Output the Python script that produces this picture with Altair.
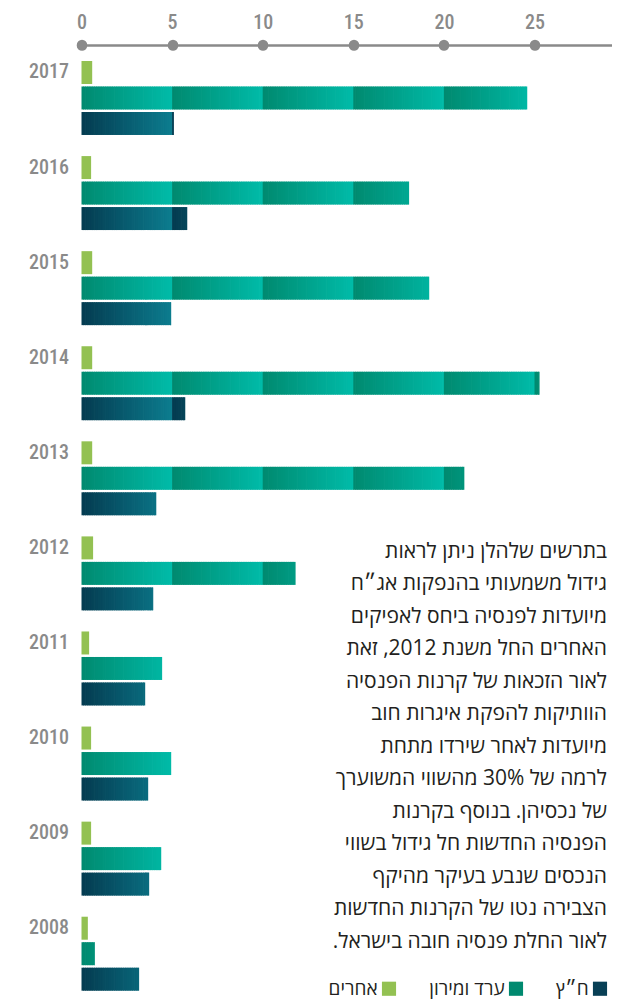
import math
import altair as alt
import pandas as pd

# ---- data ----
YEARS = ["2017", "2016", "2015", "2014", "2013", "2012", "2011", "2010", "2009", "2008"]
SERIES = ["אחרים", "ערד ומירון", "ח״ץ"]
OTHERS = [0.59, 0.53, 0.59, 0.59, 0.59, 0.64, 0.42, 0.53, 0.53, 0.35]
ARAD = [24.6, 18.08, 19.19, 25.28, 21.12, 11.81, 4.45, 4.95, 4.40, 0.73]
HATZ = [5.10, 5.83, 4.95, 5.72, 4.12, 3.96, 3.51, 3.68, 3.73, 3.18]
X_TICKS = [0, 5, 10, 15, 20, 25, 30]
TEXT_LINES = [
    "בתרשים שלהלן ניתן לראות",
    "גידול משמעותי בהנפקות אג״ח",
    "מיועדות לפנסיה ביחס לאפיקים",
    "האחרים החל משנת 2012, זאת",
    "לאור הזכאות של קרנות הפנסיה",
    "הוותיקות להפקת איגרות חוב",
    "מיועדות לאחר שירדו מתחת",
    "לרמה של 30% מהשווי המשוערך",
    "של נכסיהן. בנוסף בקרנות",
    "הפנסיה החדשות חל גידול בשווי",
    "הנכסים שנבע בעיקר מהיקף",
    "הצבירה נטו של הקרנות החדשות",
    "לאור החלת פנסיה חובה בישראל.",
]

# ---- style ----
GREEN = "#93c152"
TEAL = ("#00896f", "#00bba9")
DARK = ("#043b50", "#0c7d8f")
LEGEND_COLORS = [GREEN, "#00896f", "#083f55"]
GRAY = "#8a8a8a"
NUM_FONT = "'Liberation Sans Narrow', 'Roboto Condensed', 'DejaVu Sans Condensed', Roboto, sans-serif"
HEB_FONT = "'Open Sans', 'Liberation Sans', sans-serif"
SEG = 5.0        # width of one shaded segment (axis units)
SLICES = 50      # slices per segment, to draw the shading
PX_PER_UNIT = 18.12
LEFT = 73.5
TOTAL_W = 604

W = TOTAL_W - LEFT
XMAX = W / PX_PER_UNIT
H = 929.7

x_scale = alt.Scale(domain=[0, XMAX], nice=False, zero=True)
y_scale = alt.Scale(paddingInner=0.222, paddingOuter=0)
yoff_scale = alt.Scale(domain=SERIES, paddingInner=0.098, paddingOuter=0)

X_AXIS = alt.Axis(orient="top", values=X_TICKS, title=None, grid=False,
                  offset=16, domainColor=GRAY, domainWidth=2.5,
                  ticks=True, tickColor=GRAY, tickWidth=10.5, tickCap="round",
                  tickSize=0.5, labelPadding=12, labelFont=NUM_FONT,
                  labelFontSize=20, labelFontWeight=500, labelColor=GRAY,
                  labelFlush=False)

base_df = pd.DataFrame({"year": YEARS, "series": SERIES[0], "value": OTHERS})


def slices(values, series):
    rows = []
    step = SEG / SLICES
    for year, v in zip(YEARS, values):
        n = int(math.ceil(v / step - 1e-9))
        for i in range(n):
            a = i * step
            b = min((i + 1) * step + 0.04, v)
            rows.append({"year": year, "series": series, "a": a, "b": b,
                         "t": ((i % SLICES) + 0.5) / SLICES})
    return pd.DataFrame(rows)


arad_df = slices(ARAD, SERIES[1])
hatz_df = slices(HATZ, SERIES[2])

Y = alt.Y("year:N", sort=YEARS, scale=y_scale,
          axis=alt.Axis(title=None, domain=False, ticks=False, labelPadding=13,
                        labelOffset=-25.5, labelFont=NUM_FONT, labelFontSize=20,
                        labelFontWeight=500, labelColor=GRAY, labelBaseline="middle"))
YOFF = alt.YOffset("series:N", scale=yoff_scale)

green = alt.Chart(base_df).mark_bar(stroke=None).encode(
    x=alt.X("value:Q", scale=x_scale, axis=X_AXIS),
    y=Y,
    yOffset=YOFF,
    color=alt.Color("series:N",
                    scale=alt.Scale(domain=SERIES, range=LEGEND_COLORS),
                    legend=alt.Legend(orient="none", legendX=298, legendY=918,
                                      direction="horizontal", title=None,
                                      symbolType="square", symbolSize=200,
                                      symbolStrokeWidth=0, symbolOpacity=1,
                                      labelAlign="right", labelOffset=0,
                                      labelExpr="datum.label + '\u2003\u200a\u200e'",
                                      labelFont=HEB_FONT, labelFontSize=19,
                                      labelColor="#231f20", columnPadding=30)),
)


def shaded(df, colors):
    return alt.Chart(df).mark_bar(stroke=None).encode(
        x=alt.X("a:Q", scale=x_scale, axis=X_AXIS),
        x2="b:Q",
        y=Y,
        yOffset=YOFF,
        color=alt.Color("t:Q", scale=alt.Scale(domain=[0, 1], range=list(colors),
                                               interpolate="rgb"), legend=None),
    )


text = alt.Chart(pd.DataFrame({"k": [0]})).mark_text(
    text=["\u200f" + s + "\u200f" for s in TEXT_LINES],
    align="right", baseline="alphabetic", lineHeight=32.5,
    font=HEB_FONT, fontSize=21, color="#231f20",
).encode(x=alt.value(525.5), y=alt.value(497))

chart = alt.layer(green, shaded(arad_df, TEAL), shaded(hatz_df, DARK), text).resolve_scale(
    color="independent"
).properties(
    width=W, height=H,
    autosize=alt.AutoSizeParams(type="none"),
    padding={"left": LEFT, "top": 53, "right": 0, "bottom": 8},
).configure_view(stroke=None)

chart.save("out.html", embed_options={"renderer": "svg", "actions": False})
